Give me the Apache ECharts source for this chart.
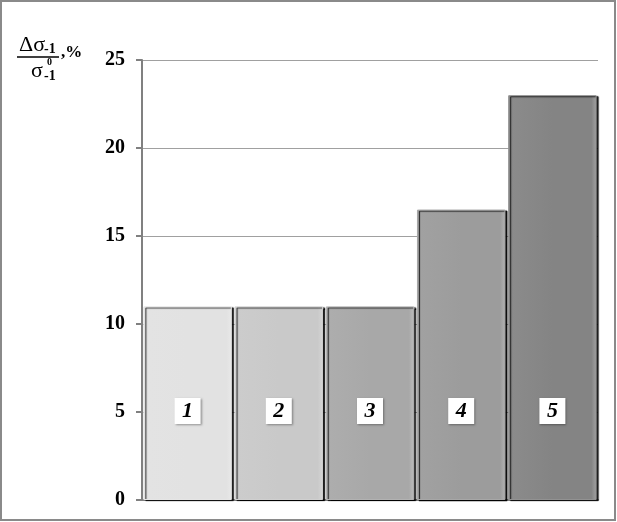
<!DOCTYPE html>
<html>
<head>
<meta charset="utf-8">
<script src="https://cdn.jsdelivr.net/npm/echarts@6/dist/echarts.min.js"></script>
<style>
  html, body { margin: 0; padding: 0; background: #fff; }
  #chart { width: 617px; height: 522px; }
</style>
</head>
<body>
<div id="chart"></div>
<script>
// 数据
var categories = ['1', '2', '3', '4', '5'];
var values = [11, 11, 11, 16.5, 23];
var barColors = ['#e2e2e2', '#c9c9c9', '#a8a8a8', '#9c9c9c', '#848484'];
var yTicks = [0, 5, 10, 15, 20, 25];

var myChart = echarts.init(document.getElementById('chart'));

// 每根柱子做一点立体感
function barStyle (color) {
	return {
		color: new echarts.graphic.LinearGradient(0, 0, 1, 0, [
			{ offset: 0, color: echarts.color.lift(color, -0.08) },
			{ offset: 0.04, color: echarts.color.lift(color, 0.06) },
			{ offset: 0.5, color: color },
			{ offset: 0.94, color: color },
			{ offset: 1, color: echarts.color.lift(color, 0.25) }
		]),
		borderColor: echarts.color.lift(color, 0.12),
		borderWidth: 1,
		shadowColor: 'rgba(0,0,0,0.9)',
		shadowOffsetX: 2,
		shadowOffsetY: 1,
		shadowBlur: 1
	};
}

var barData = values.map(function (v, i) {
	return { value: v, itemStyle: barStyle(barColors[i]) };
});

var serif = '"Liberation Serif", "Times New Roman", serif';

var option = {
	animation: false,
	grid: {
		left: 142,
		right: 19,
		top: 60,
		bottom: 22
	},
	xAxis: {
		type: 'category',
		data: categories,
		axisTick: { show: false },
		axisLabel: { show: false },
		axisLine: { lineStyle: { color: '#808080', width: 2 } }
	},
	yAxis: {
		type: 'value',
		min: yTicks[0],
		max: yTicks[yTicks.length - 1],
		interval: 5,
		axisLine: { show: true, lineStyle: { color: '#808080', width: 2 } },
		axisTick: { show: true, length: 6, lineStyle: { color: '#808080', width: 2 } },
		axisLabel: {
			margin: 17,
			color: '#000',
			fontFamily: serif,
			fontWeight: 'bold',
			fontSize: 20
		},
		splitLine: { lineStyle: { color: '#a0a0a0', width: 1 } }
	},
	series: [{
		type: 'bar',
		barCategoryGap: '3%',
		data: barData,
		label: {
			show: true,
			position: 'insideBottom',
			distance: 76,
			formatter: '{b}',
			color: '#000',
			fontFamily: serif,
			fontStyle: 'italic',
			fontWeight: 'bold',
			fontSize: 22,
			backgroundColor: '#fff',
			width: 26,
			height: 26,
			lineHeight: 26,
			align: 'center',
			shadowColor: 'rgba(0,0,0,0.35)',
			shadowBlur: 2,
			shadowOffsetX: 1,
			shadowOffsetY: 1
		}
	}],
	graphic: [
		{ // 外框
			type: 'rect',
			shape: { x: 1, y: 1, width: 614, height: 519 },
			style: { fill: 'none', stroke: '#8a8a8a', lineWidth: 2 },
			silent: true
		},
		// 纵轴标题：Δσ-1 / σ°-1 , %
		{ type: 'text', x: 19, y: 56, style: { text: 'Δσ', font: '22px ' + serif, fill: '#000', textVerticalAlign: 'bottom' } },
		{ type: 'text', x: 44, y: 56, style: { text: '-1', font: 'bold 14px ' + serif, fill: '#000', textVerticalAlign: 'bottom' } },
		{ type: 'line', shape: { x1: 17, y1: 57, x2: 59, y2: 57 }, style: { stroke: '#000', lineWidth: 1.5 } },
		{ type: 'text', x: 31, y: 82, style: { text: 'σ', font: '22px ' + serif, fill: '#000', textVerticalAlign: 'bottom' } },
		{ type: 'text', x: 47, y: 67, style: { text: '0', font: 'bold 10px ' + serif, fill: '#000', textVerticalAlign: 'bottom' } },
		{ type: 'text', x: 44, y: 83, style: { text: '-1', font: 'bold 14px ' + serif, fill: '#000', textVerticalAlign: 'bottom' } },
		{ type: 'text', x: 61, y: 61, style: { text: ',%', font: 'bold 17px ' + serif, fill: '#000', textVerticalAlign: 'bottom' } }
	]
};

myChart.setOption(option);
</script>
</body>
</html>
